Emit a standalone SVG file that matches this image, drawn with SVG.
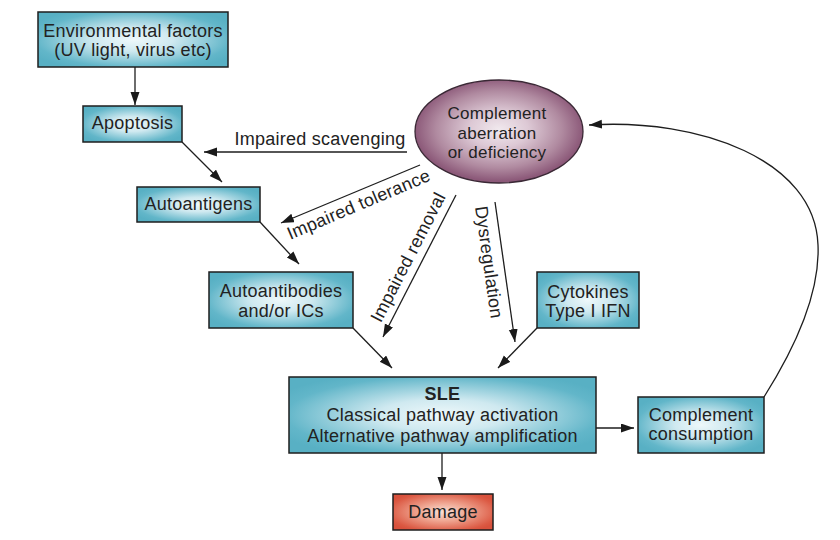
<svg xmlns="http://www.w3.org/2000/svg" width="840" height="540" viewBox="0 0 840 540">
<defs>
<radialGradient id="gBox" cx="0.5" cy="0.5" r="0.6">
<stop offset="0" stop-color="#eef8fa"/>
<stop offset="0.35" stop-color="#cfe9f0"/>
<stop offset="0.85" stop-color="#62b6c9"/>
<stop offset="1" stop-color="#58b0c4"/>
</radialGradient>
<radialGradient id="gEll" cx="0.5" cy="0.48" r="0.5">
<stop offset="0" stop-color="#f1e9ee"/>
<stop offset="0.35" stop-color="#ddc9d5"/>
<stop offset="0.75" stop-color="#b08aa0"/>
<stop offset="1" stop-color="#8c5979"/>
</radialGradient>
<radialGradient id="gDmg" cx="0.5" cy="0.5" r="0.6">
<stop offset="0" stop-color="#fae0d6"/>
<stop offset="0.4" stop-color="#f0a894"/>
<stop offset="0.9" stop-color="#dc5a44"/>
<stop offset="1" stop-color="#d8513c"/>
</radialGradient>
<marker id="ah" markerUnits="userSpaceOnUse" markerWidth="14" markerHeight="10" refX="13" refY="4.5" orient="auto">
<path d="M0,0 L13,4.5 L0,9 Z" fill="#1a1a1a"/>
</marker>
<style>
.box{fill:url(#gBox);stroke:#1e1e1e;stroke-width:1.5}
.t{font-family:"Liberation Sans",Arial,sans-serif;font-size:18px;fill:#222;text-anchor:middle;letter-spacing:0.25px}
.e{font-size:17px}
.c{fill:none;stroke:#1e1e1e;stroke-width:1.3}
.a{marker-end:url(#ah)}
</style>
</defs>

<g id="connectors">
<line class="c a" x1="135" y1="67" x2="135" y2="105"/>
<line class="c a" x1="182" y1="142" x2="222" y2="182"/>
<line class="c a" x1="407" y1="152" x2="204" y2="152"/>
<line class="c a" x1="420" y1="165" x2="281" y2="223"/>
<line class="c a" x1="260" y1="222" x2="299" y2="264"/>
<line class="c a" x1="456" y1="195" x2="383" y2="337"/>
<line class="c a" x1="495" y1="202" x2="515" y2="342"/>
<line class="c a" x1="537" y1="328" x2="498" y2="368"/>
<line class="c a" x1="353" y1="328" x2="392" y2="368"/>
<line class="c a" x1="442" y1="453" x2="442" y2="490"/>
<line class="c a" x1="596" y1="428" x2="634" y2="428"/>
<path class="c a" d="M764,397 C800,340 820,290 818,245 C815,160 700,118 589,125"/>
<text class="t" x="320" y="145">Impaired scavenging</text>
<text class="t" x="0" y="0" transform="translate(361,210) rotate(-22.9)">Impaired tolerance</text>
<text class="t" x="0" y="0" transform="translate(413.5,260) rotate(-62.8)">Impaired removal</text>
<text class="t" x="0" y="0" transform="translate(483,263) rotate(81.9)">Dysregulation</text>
</g>

<g id="env">
<rect class="box" x="38" y="12" width="190" height="55"/>
<text class="t" x="133" y="37">Environmental factors</text>
<text class="t" x="133" y="56">(UV light, virus etc)</text>
</g>

<g id="apoptosis">
<rect class="box" x="83" y="106" width="99" height="36"/>
<text class="t" x="132.5" y="129">Apoptosis</text>
</g>

<g id="autoantigens">
<rect class="box" x="137" y="187" width="123" height="35"/>
<text class="t" x="198.5" y="210">Autoantigens</text>
</g>

<g id="complement">
<ellipse cx="499" cy="131.5" rx="84" ry="51.5" fill="url(#gEll)" stroke="#3a2835" stroke-width="1.3"/>
<text class="t e" x="497" y="119">Complement</text>
<text class="t e" x="497" y="139">aberration</text>
<text class="t e" x="497" y="158">or deficiency</text>
</g>

<g id="autoantibodies">
<rect class="box" x="209" y="272" width="144" height="56"/>
<text class="t" x="281" y="297">Autoantibodies</text>
<text class="t" x="281" y="317">and/or ICs</text>
</g>

<g id="cytokines">
<rect class="box" x="537" y="272" width="102" height="56"/>
<text class="t" x="588" y="298">Cytokines</text>
<text class="t" x="588" y="317">Type I IFN</text>
</g>

<g id="sle">
<rect class="box" x="289" y="377" width="307" height="76"/>
<text class="t" x="442.5" y="400" font-weight="bold">SLE</text>
<text class="t" x="442.5" y="421">Classical pathway activation</text>
<text class="t" x="442.5" y="442">Alternative pathway amplification</text>
</g>

<g id="consumption">
<rect class="box" x="638" y="397" width="126" height="56"/>
<text class="t" x="701" y="421">Complement</text>
<text class="t" x="701" y="440">consumption</text>
</g>

<g id="damage">
<rect x="393" y="494" width="100" height="36" fill="url(#gDmg)" stroke="#1e1e1e" stroke-width="1.5"/>
<text class="t" x="443" y="518">Damage</text>
</g>
</svg>
